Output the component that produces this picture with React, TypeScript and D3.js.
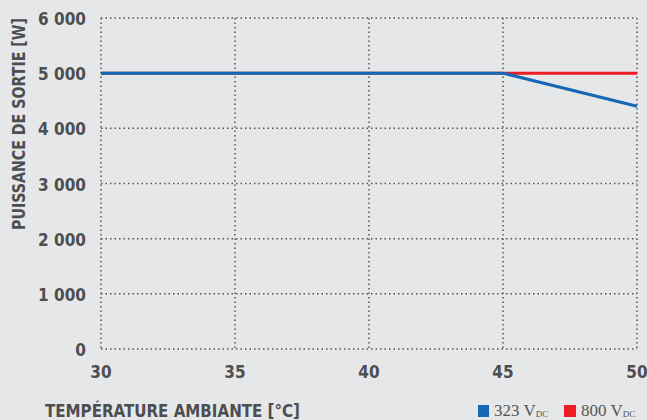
import React from 'react'
import * as d3 from 'd3'

const width = 647
const height = 420

// temperatures [°C] and output power [W]
const temps = [30, 45, 50]
const power323 = [5000, 5000, 4400]
const power800 = [5000, 5000, 5000]
const xTicks = [30, 35, 40, 45, 50]
const yTicks = [0, 1000, 2000, 3000, 4000, 5000, 6000]

const font = "'DejaVu Sans Condensed', 'Liberation Sans Narrow', sans-serif"
const textColor = '#4d4e50'

export default function App() {
    const x = d3.scaleLinear().domain([30, 50]).range([101, 637])
    const y = d3.scaleLinear().domain([0, 6000]).range([349, 18])
    const fmt = (v: number) => d3.format(',')(v).replace(',', ' ')

    const line = d3.line<number>()
        .x((_, i) => x(temps[i]))
        .y(d => y(d))

    return (
        <svg width={width} height={height} style={{position: 'absolute', left: 0, top: 0}}>
            <rect width={width} height={height} fill="#e6e7e9" />
            {yTicks.map(t => (
                <line key={'h' + t} x1={x(30)} x2={x(50)} y1={y(t)} y2={y(t)}
                    stroke="#555" strokeWidth={1.5} strokeDasharray="1.5,3" />
            ))}
            {xTicks.map(t => (
                <line key={'v' + t} x1={x(t)} x2={x(t)} y1={y(6000)} y2={y(0)}
                    stroke="#555" strokeWidth={1.5} strokeDasharray="1.5,3" />
            ))}
            {yTicks.map(t => (
                <text key={'yl' + t} x={86} y={y(t) + 7} textAnchor="end"
                    fontFamily={font} fontWeight="bold" fontSize={17} fill={textColor}>{fmt(t)}</text>
            ))}
            {xTicks.map(t => (
                <text key={'xl' + t} x={x(t)} y={378} textAnchor="middle"
                    fontFamily={font} fontWeight="bold" fontSize={17} fill={textColor}>{t}</text>
            ))}
            <path d={line(power800) || ''} fill="none" stroke="#ee1c25" strokeWidth={3} />
            <path d={line(power323) || ''} fill="none" stroke="#1468b6" strokeWidth={3} />
            <text transform="translate(25,124) rotate(-90)" textAnchor="middle"
                textLength={212} lengthAdjust="spacingAndGlyphs"
                fontFamily={font} fontWeight="bold" fontSize={17} fill={textColor}>PUISSANCE DE SORTIE [W]</text>
            <text x={45} y={417} textLength={255} lengthAdjust="spacingAndGlyphs"
                fontFamily={font} fontWeight="bold" fontSize={17.5} fill={textColor}>TEMPÉRATURE AMBIANTE [°C]</text>
            <rect x={478} y={405} width={11} height={12} fill="#1468b6" />
            <text x={494} y={416} fontFamily="'Liberation Serif', serif" fontSize={17} fill="#555">
                323 V<tspan fontSize={9} dy={1}>DC</tspan>
            </text>
            <rect x={564} y={405} width={12} height={12} fill="#ee1c25" />
            <text x={581} y={416} fontFamily="'Liberation Serif', serif" fontSize={17} fill="#555">
                800 V<tspan fontSize={9} dy={1}>DC</tspan>
            </text>
        </svg>
    )
}
